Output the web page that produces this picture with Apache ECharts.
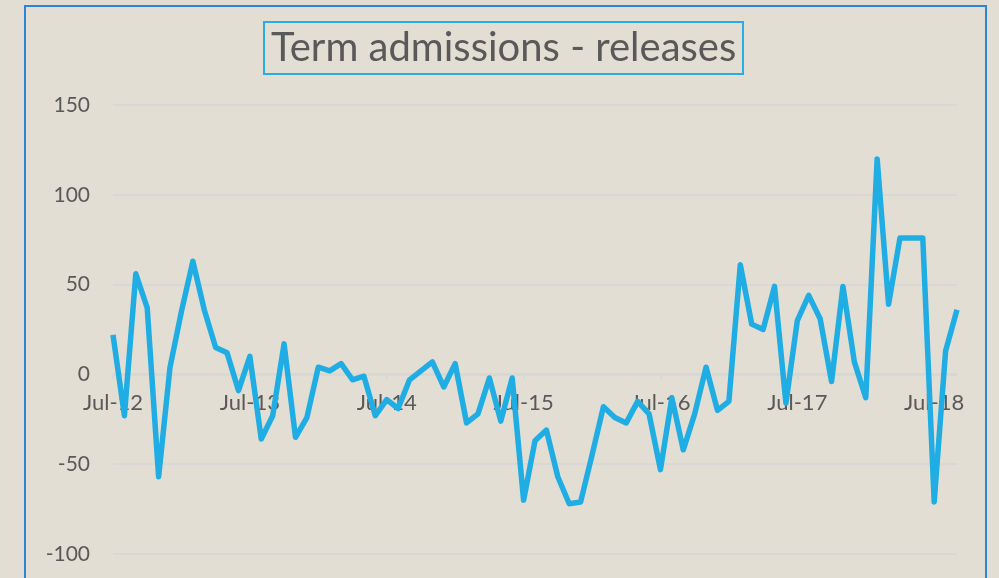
<!DOCTYPE html>
<html>
<head>
<meta charset="utf-8">
<script src="https://cdn.jsdelivr.net/npm/echarts@6/dist/echarts.min.js"></script>
<style>
html,body{margin:0;padding:0;background:#E3DED4;}
#chart{width:999px;height:578px;}
</style>
</head>
<body>
<div id="chart"></div>
<script>
var titleText = 'Term admissions - releases';
var months = ['Jul-12','Aug-12','Sep-12','Oct-12','Nov-12','Dec-12','Jan-13','Feb-13','Mar-13','Apr-13','May-13','Jun-13',
'Jul-13','Aug-13','Sep-13','Oct-13','Nov-13','Dec-13','Jan-14','Feb-14','Mar-14','Apr-14','May-14','Jun-14',
'Jul-14','Aug-14','Sep-14','Oct-14','Nov-14','Dec-14','Jan-15','Feb-15','Mar-15','Apr-15','May-15','Jun-15',
'Jul-15','Aug-15','Sep-15','Oct-15','Nov-15','Dec-15','Jan-16','Feb-16','Mar-16','Apr-16','May-16','Jun-16',
'Jul-16','Aug-16','Sep-16','Oct-16','Nov-16','Dec-16','Jan-17','Feb-17','Mar-17','Apr-17','May-17','Jun-17',
'Jul-17','Aug-17','Sep-17','Oct-17','Nov-17','Dec-17','Jan-18','Feb-18','Mar-18','Apr-18','May-18','Jun-18',
'Jul-18','Aug-18','Sep-18'];
var netValues = [22,-23,56,37,-57,4,35,63,36,15,12,-9,
10,-36,-23,17,-35,-24,4,2,6,-3,-1,-23,
-14,-19,-3,2,7,-7,6,-27,-22,-2,-26,-2,
-70,-37,-31,-57,-72,-71,-45,-18,-24,-27,-15,-22,
-53,-13,-42,-22,4,-20,-15,61,28,25,49,-16,
30,44,31,-4,49,7,-13,120,39,76,76,76,
-71,13,36];
var yMin = -100, yMax = 150, yStep = 50;

var chart = echarts.init(document.getElementById('chart'), null, {renderer:'canvas'});
var fontFam = 'Lato, "Noto Sans", sans-serif';
chart.setOption({
  backgroundColor: '#E3DED4',
  animation: false,
  title: {
    text: titleText,
    left: 264,
    top: 22,
    padding: [5, 7, 5, 7],
    borderColor: '#29ACE3',
    borderWidth: 2,
    textStyle: {color: '#595959', fontFamily: fontFam, fontWeight: 'normal', fontSize: 40, lineHeight: 42}
  },
  graphic: [{
    type: 'rect',
    shape: {x: 25, y: 6, width: 961, height: 640},
    style: {fill: 'none', stroke: '#2E85D3', lineWidth: 2},
    silent: true
  }],
  grid: {left: 113, right: 42, top: 105, bottom: 24, outerBoundsMode: 'none', containLabel: false},
  xAxis: {
    type: 'category',
    data: months,
    boundaryGap: false,
    position: 'bottom',
    offset: -180,
    axisLine: {onZero: false, lineStyle: {color: '#D6D6D6', width: 1.5}},
    axisTick: {show: true, interval: 11, length: 5, inside: false, lineStyle: {color: '#D6D6D6', width: 1.5}},
    axisLabel: {interval: 11, margin: 18, color: '#595959', fontSize: 22, fontFamily: fontFam},
    splitLine: {show: false}
  },
  yAxis: {
    type: 'value',
    min: yMin, max: yMax, interval: yStep,
    axisLine: {show: false},
    axisTick: {show: false},
    axisLabel: {color: '#595959', fontSize: 21, margin: 23, fontFamily: fontFam},
    splitLine: {lineStyle: {color: '#D6D6D6', width: 1.5}}
  },
  series: [{
    type: 'line',
    data: netValues,
    showSymbol: false,
    smooth: false,
    lineStyle: {color: '#1FADE4', width: 5.5, join: 'round'},
    itemStyle: {color: '#1FADE4'}
  }]
});
</script>
</body>
</html>
